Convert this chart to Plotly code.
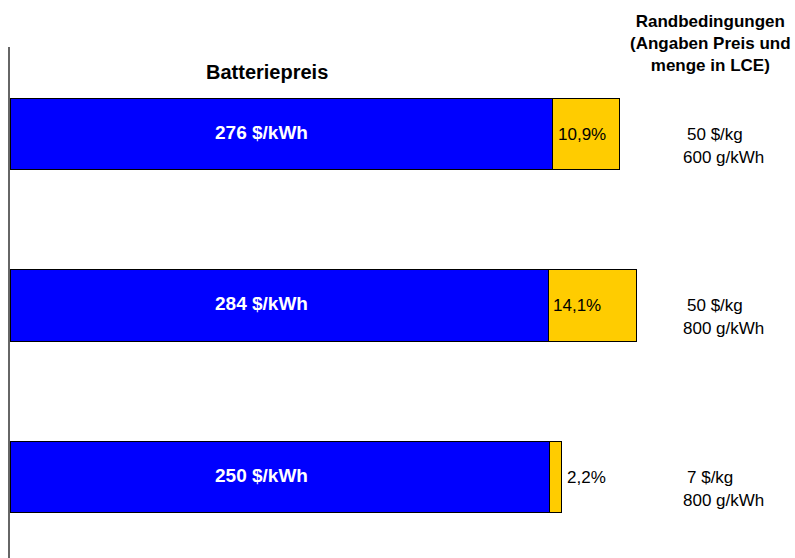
import plotly.graph_objects as go

# ---- data ----
scenarios = ["Szenario 1", "Szenario 2", "Szenario 3"]
battery_price = [276, 284, 250]          # $/kWh total battery price
lithium_share = [10.9, 14.1, 2.2]        # % share of lithium (LCE) cost
lce_price = ["50 $/kg", "50 $/kg", "7 $/kg"]
lce_amount = ["600 g/kWh", "800 g/kWh", "800 g/kWh"]

rest_part = [p * (1 - s / 100) for p, s in zip(battery_price, lithium_share)]
lithium_part = [p * s / 100 for p, s in zip(battery_price, lithium_share)]

W, H = 795, 558
ML, MT = 10, 47
PX_PER_UNIT = 2.207
ROW_PX = 171.5

fig = go.Figure()
fig.add_trace(go.Bar(
    y=scenarios, x=rest_part, orientation="h",
    marker=dict(color="#0000FF", line=dict(color="#000000", width=1)),
    hoverinfo="skip", name="Batterie"))
fig.add_trace(go.Bar(
    y=scenarios, x=lithium_part, orientation="h",
    marker=dict(color="#FFCC00", line=dict(color="#000000", width=1)),
    hoverinfo="skip", name="Lithium"))

def px_x(px):
    return (px - ML) / (W - ML)

def px_y(py):
    return (H - py) / (H - MT)

FONT = "Liberation Sans, Arial, sans-serif"
ann = []
for i, cat in enumerate(scenarios):
    # price label inside blue bar
    ann.append(dict(xref="paper", yref="y", x=px_x(261), y=cat, yshift=2,
                    text=f"<b>{battery_price[i]} $/kWh</b>", showarrow=False,
                    xanchor="center", yanchor="middle",
                    font=dict(family=FONT, size=19, color="white")))
    # percentage label
    pct = f"{lithium_share[i]:.1f}".replace(".", ",") + "%"
    if lithium_share[i] >= 5:
        xpos, xs = rest_part[i], 3
    else:
        xpos, xs = battery_price[i], 3
    ann.append(dict(xref="x", yref="y", x=xpos, y=cat, xshift=xs,
                    text=pct, showarrow=False, xanchor="left", yanchor="middle",
                    font=dict(family=FONT, size=17, color="black")))
    # right side conditions
    ann.append(dict(xref="paper", yref="y", x=px_x(685), y=cat,
                    text=lce_price[i], showarrow=False, xanchor="left",
                    yanchor="middle", font=dict(family=FONT, size=17, color="black")))
    ann.append(dict(xref="paper", yref="y", x=px_x(681), y=cat, yshift=-23,
                    text=lce_amount[i], showarrow=False, xanchor="left",
                    yanchor="middle", font=dict(family=FONT, size=17, color="black")))

ann.append(dict(xref="paper", yref="paper", x=px_x(267), y=px_y(72),
                text="<b>Batteriepreis</b>", showarrow=False,
                xanchor="center", yanchor="middle",
                font=dict(family=FONT, size=20, color="black")))
ann.append(dict(xref="paper", yref="paper", x=px_x(710), y=px_y(43),
                text="<b>Randbedingungen<br>(Angaben Preis und<br>menge in LCE)</b>",
                showarrow=False, xanchor="center", yanchor="middle", align="center",
                font=dict(family=FONT, size=17, color="black")))

y_top = -(134 - MT) / ROW_PX
y_bot = y_top + (H - MT) / ROW_PX

fig.update_layout(
    width=W, height=H,
    margin=dict(l=ML, r=0, t=MT, b=0),
    barmode="stack", bargap=1 - 71.5 / ROW_PX,
    showlegend=False,
    plot_bgcolor="white", paper_bgcolor="white",
    annotations=ann,
    xaxis=dict(range=[0, (W - ML) / PX_PER_UNIT], visible=False, fixedrange=True),
    yaxis=dict(type="category", categoryorder="array", categoryarray=scenarios,
               range=[y_bot, y_top], showline=True, linecolor="#666666", linewidth=1.5,
               showticklabels=False, showgrid=False, zeroline=False, ticks=""),
)

fig.write_html("out.html")
